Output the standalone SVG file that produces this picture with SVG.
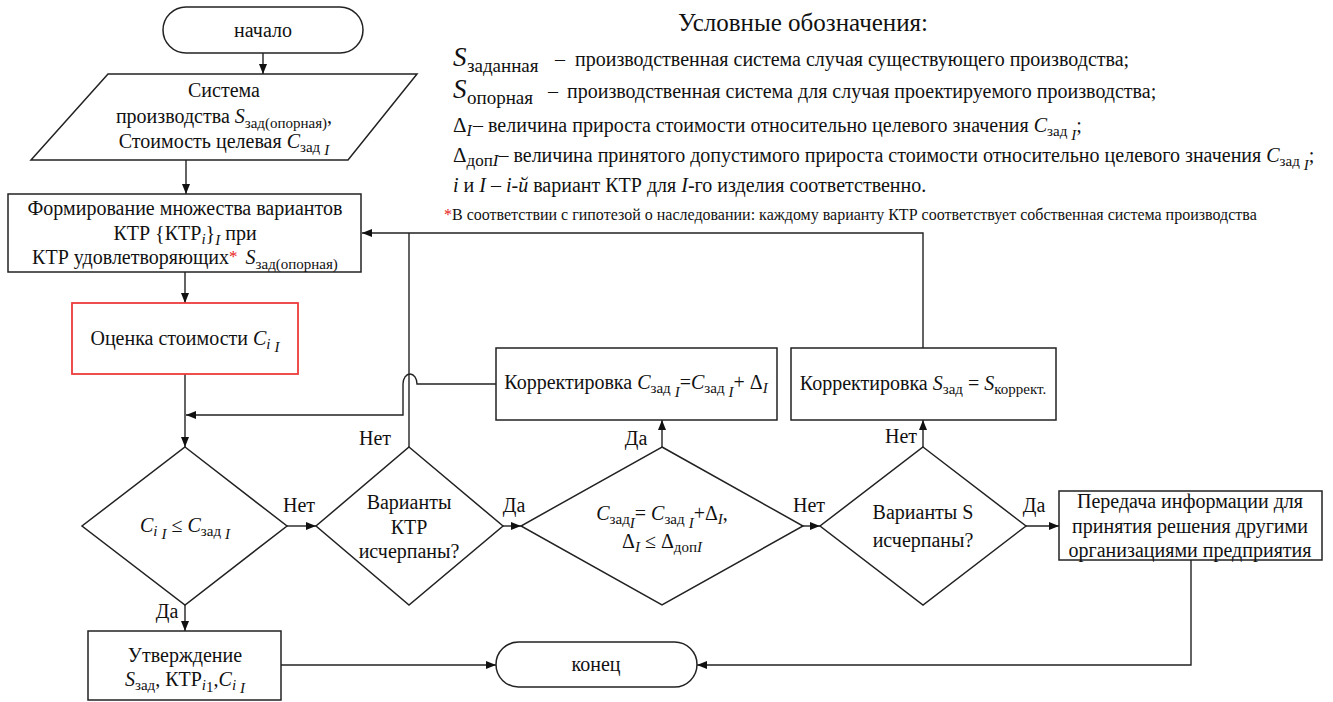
<svg xmlns="http://www.w3.org/2000/svg" width="1333" height="702" viewBox="0 0 1333 702">
<style>
.t{font-family:'Liberation Serif','Times New Roman','DejaVu Serif',serif;font-size:20px;fill:#111;}
.c{text-anchor:middle;}
.i{font-style:italic;}
.sb{font-size:15px;}
.red{fill:#e62020;}
.node{fill:#fff;stroke:#222;stroke-width:1.5;}
.rn{fill:#fff;stroke:#ee3b3b;stroke-width:1.8;}
.conn path{fill:none;stroke:#222;stroke-width:1.4;}
</style>
<defs>
<marker id="ah" markerUnits="userSpaceOnUse" markerWidth="10" markerHeight="8" viewBox="0 0 10 8" refX="10" refY="4" orient="auto">
<path d="M0,0 L10,4 L0,8 z" fill="#111"/>
</marker>
</defs>
<rect width="1333" height="702" fill="#fff"/>

<g id="connectors" class="conn">
<path d="M263,53 V74" marker-end="url(#ah)"/>
<path d="M186,160 V194" marker-end="url(#ah)"/>
<path d="M185,272 V303" marker-end="url(#ah)"/>
<path d="M185,374 V447" marker-end="url(#ah)"/>
<path d="M497,384 H417 A7 10 0 0 0 403 384 V415 H186" marker-end="url(#ah)"/>
<path d="M287,526 H316" marker-end="url(#ah)"/>
<path d="M503,526 H521" marker-end="url(#ah)"/>
<path d="M803,526 H820" marker-end="url(#ah)"/>
<path d="M1026,526 H1059" marker-end="url(#ah)"/>
<path d="M662,447 V420" marker-end="url(#ah)"/>
<path d="M923,447 V420" marker-end="url(#ah)"/>
<path d="M923,348 V233 H362" marker-end="url(#ah)"/>
<path d="M409,447 V233"/>
<path d="M185,605 V631" marker-end="url(#ah)"/>
<path d="M281,665 H496" marker-end="url(#ah)"/>
<path d="M1191,560 V665 H697" marker-end="url(#ah)"/>
</g>

<g id="labels" class="t c">
<text x="299" y="512">Нет</text>
<text x="375" y="445">Нет</text>
<text x="514" y="512">Да</text>
<text x="636" y="445">Да</text>
<text x="809" y="512">Нет</text>
<text x="901" y="443">Нет</text>
<text x="1034" y="512">Да</text>
<text x="167" y="618">Да</text>
</g>

<g id="start">
<rect class="node" x="163" y="7" width="200" height="46" rx="23"/>
<text class="t c" x="263" y="37">начало</text>
</g>

<g id="input">
<polygon class="node" points="108,74 417,74 348,160 31,160"/>
<text class="t c" x="224" y="97">Система</text>
<text class="t c" x="224" y="123">производства <tspan class="i">S</tspan><tspan class="sb" dy="5">зад(опорная)</tspan><tspan dy="-5">,</tspan></text>
<text class="t c" x="224" y="148">Стоимость целевая <tspan class="i">C</tspan><tspan class="sb" dy="4">зад</tspan><tspan class="sb i" dx="4" dy="3">I</tspan></text>
</g>

<g id="form">
<rect class="node" x="8" y="194" width="353" height="78"/>
<text class="t c" x="185" y="215">Формирование множества вариантов</text>
<text class="t c" x="185" y="240">КТР {КТР<tspan class="sb i" dy="4">i</tspan><tspan dy="-4">}</tspan><tspan class="sb i" dy="5">I</tspan><tspan dy="-5"> при</tspan></text>
<text class="t c" x="185" y="264">КТР удовлетворяющих<tspan class="red" font-size="17" dy="-2">*</tspan><tspan class="i" dx="8" dy="2">S</tspan><tspan class="sb" dy="5">зад(опорная)</tspan></text>
</g>

<g id="eval">
<rect class="rn" x="72" y="303" width="226" height="71"/>
<text class="t c" x="185" y="345">Оценка стоимости <tspan class="i">C</tspan><tspan class="sb i" dy="4">i</tspan><tspan class="sb i" dx="4" dy="3">I</tspan></text>
</g>

<g id="dec1">
<polygon class="node" points="185,447 287,526 185,605 82,526"/>
<text class="t c" x="185" y="532"><tspan class="i">C</tspan><tspan class="sb i" dy="4">i</tspan><tspan class="sb i" dx="4" dy="3">I</tspan><tspan dy="-7"> ≤ </tspan><tspan class="i">C</tspan><tspan class="sb" dy="4">зад</tspan><tspan class="sb i" dx="4" dy="3">I</tspan></text>
</g>

<g id="dec2">
<polygon class="node" points="409,447 503,526 409,605 316,526"/>
<text class="t c" x="409" y="509">Варианты</text>
<text class="t c" x="409" y="534">КТР</text>
<text class="t c" x="409" y="558">исчерпаны?</text>
</g>

<g id="dec3">
<polygon class="node" points="662,447 803,526 662,605 521,526"/>
<text class="t c" x="662" y="520"><tspan class="i">C</tspan><tspan class="sb" dy="4">зад</tspan><tspan class="sb i" dy="4">I</tspan><tspan dy="-8">= </tspan><tspan class="i">C</tspan><tspan class="sb" dy="4">зад</tspan><tspan class="sb i" dx="4" dy="4">I</tspan><tspan dy="-8">+Δ</tspan><tspan class="sb i" dy="4">I</tspan><tspan dy="-4">,</tspan></text>
<text class="t c" x="662" y="548">Δ<tspan class="sb i" dy="4">I</tspan><tspan dy="-4"> ≤ Δ</tspan><tspan class="sb" dy="4">доп</tspan><tspan class="sb i">I</tspan></text>
</g>

<g id="dec4">
<polygon class="node" points="923,447 1026,526 923,605 820,526"/>
<text class="t c" x="923" y="519">Варианты S</text>
<text class="t c" x="923" y="547">исчерпаны?</text>
</g>

<g id="corrC">
<rect class="node" x="496" y="348" width="281" height="72"/>
<text class="t c" x="636" y="389">Корректировка <tspan class="i">C</tspan><tspan class="sb" dy="4">зад</tspan><tspan class="sb i" dx="4" dy="4">I</tspan><tspan dy="-8">=</tspan><tspan class="i">C</tspan><tspan class="sb" dy="4">зад</tspan><tspan class="sb i" dx="4" dy="4">I</tspan><tspan dy="-8">+ Δ</tspan><tspan class="sb i" dy="4">I</tspan></text>
</g>

<g id="corrS">
<rect class="node" x="791" y="348" width="265" height="72"/>
<text class="t c" x="923" y="390">Корректировка <tspan class="i">S</tspan><tspan class="sb" dy="4">зад</tspan><tspan dy="-4"> = </tspan><tspan class="i">S</tspan><tspan class="sb" dy="4">коррект.</tspan></text>
</g>

<g id="transfer">
<rect class="node" x="1059" y="491" width="263" height="69"/>
<text class="t c" x="1190" y="508">Передача информации для</text>
<text class="t c" x="1190" y="533">принятия решения другими</text>
<text class="t c" x="1190" y="557">организациями предприятия</text>
</g>

<g id="approve">
<rect class="node" x="88" y="631" width="193" height="69"/>
<text class="t c" x="185" y="662">Утверждение</text>
<text class="t c" x="185" y="686"><tspan class="i">S</tspan><tspan class="sb" dy="4">зад</tspan><tspan dy="-4">, КТР</tspan><tspan class="sb i" dy="4">i</tspan><tspan class="sb" font-size="11" dy="2">1</tspan><tspan dy="-6">,</tspan><tspan class="i">C</tspan><tspan class="sb i" dy="4">i</tspan><tspan class="sb i" dx="4" dy="3">I</tspan></text>
</g>

<g id="end">
<rect class="node" x="496" y="642" width="201" height="45" rx="22.5"/>
<text class="t c" x="596" y="671">конец</text>
</g>

<g id="legend" class="t">
<text class="c" x="803" y="31" font-size="25">Условные обозначения:</text>
<text y="66"><tspan class="i" x="453" font-size="27">S</tspan><tspan x="467" dy="6" font-size="19">заданная</tspan><tspan x="555" dy="-6">–</tspan><tspan x="575">производственная система случая существующего производства;</tspan></text>
<text y="98"><tspan class="i" x="453" font-size="27">S</tspan><tspan x="467" dy="6" font-size="19">опорная</tspan><tspan x="548" dy="-6">–</tspan><tspan x="567">производственная система для случая проектируемого производства;</tspan></text>
<text y="132"><tspan x="453" font-size="21">Δ</tspan><tspan class="i" font-size="16" dy="4">I</tspan><tspan x="473" dy="-4">– величина прироста стоимости относительно целевого значения </tspan><tspan class="i">C</tspan><tspan class="sb" dy="4">зад</tspan><tspan class="sb i" dx="4" dy="4">I</tspan><tspan dy="-8">;</tspan></text>
<text y="162"><tspan x="453" font-size="21">Δ</tspan><tspan font-size="17" dy="4">доп</tspan><tspan class="i" font-size="17">I</tspan><tspan dy="-4">– величина принятого допустимого прироста стоимости относительно целевого значения </tspan><tspan class="i">C</tspan><tspan class="sb" dy="4">зад</tspan><tspan class="sb i" dx="4" dy="4">I</tspan><tspan dy="-8">;</tspan></text>
<text x="453" y="192"><tspan class="i">i</tspan> и <tspan class="i">I</tspan> – <tspan class="i">i-й</tspan> вариант КТР для <tspan class="i">I</tspan>-го изделия соответственно.</text>
<text y="220" font-size="16"><tspan class="red" x="444">*</tspan><tspan x="452">В соответствии с гипотезой о наследовании: каждому варианту КТР соответствует собственная система производства</tspan></text>
</g>
</svg>
